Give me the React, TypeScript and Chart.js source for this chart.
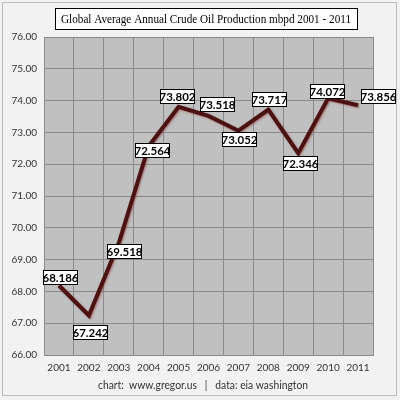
import React, { useEffect, useRef } from "react";
import { Chart, registerables } from "chart.js";

Chart.register(...registerables);

const years = ["2001", "2002", "2003", "2004", "2005", "2006", "2007", "2008", "2009", "2010", "2011"];
const production = [68.186, 67.242, 69.518, 72.564, 73.802, 73.518, 73.052, 73.717, 72.346, 74.072, 73.856];
const valueLabels = ["68.186", "67.242", "69.518", "72.564", "73.802", "73.518", "73.052", "73.717", "72.346", "74.072", "73.856"];
const titleText = "Global Average Annual Crude Oil Production mbpd 2001 - 2011";
const footerText = "chart:  www.gregor.us   |   data: eia washington";

// label box offsets from each point (dx, dy) in px
const labelOffsets: [number, number][] = [
  [1, -8], [1, 16], [5, 8], [3, 4], [-2, -11], [8, -12], [1, 8], [1, -11], [2, 10], [-1, -7], [20, -9],
];

function drawFitted(ctx: CanvasRenderingContext2D, text: string, font: string, target: number, cx: number, cy: number) {
  ctx.save();
  ctx.font = font;
  const w = ctx.measureText(text).width;
  const sx = Math.min(1, target / w);
  ctx.translate(cx, cy);
  ctx.scale(sx, 1);
  ctx.textAlign = "center";
  ctx.textBaseline = "middle";
  ctx.fillText(text, 0, 0);
  ctx.restore();
}

const decorPlugin = {
  id: "decor",
  beforeDraw(chart: any) {
    const { ctx, width, height, chartArea } = chart;
    ctx.save();
    ctx.fillStyle = "#f2f2f2";
    ctx.fillRect(0, 0, width, height);
    ctx.strokeStyle = "#bdbdbd";
    ctx.lineWidth = 1;
    ctx.strokeRect(2.5, 2.5, 394, 393);
    ctx.fillStyle = "#c0c0c0";
    ctx.fillRect(chartArea.left, chartArea.top, chartArea.right - chartArea.left, chartArea.bottom - chartArea.top);
    ctx.restore();
  },
  beforeDatasetsDraw(chart: any) {
    const ctx = chart.ctx;
    ctx.save();
    ctx.shadowColor = "rgba(150,60,60,0.6)";
    ctx.shadowBlur = 2;
    ctx.shadowOffsetX = 1;
    ctx.shadowOffsetY = 1;
  },
  afterDatasetsDraw(chart: any) {
    chart.ctx.restore();
  },
  afterDraw(chart: any) {
    const { ctx } = chart;
    ctx.save();
    // title box
    const cx = 206;
    const bw = 302;
    ctx.fillStyle = "#ffffff";
    ctx.fillRect(cx - bw / 2, 8, bw, 22);
    ctx.strokeStyle = "#000000";
    ctx.lineWidth = 1;
    ctx.strokeRect(Math.round(cx - bw / 2) + 0.5, 8.5, bw, 21);
    ctx.fillStyle = "#000000";
    drawFitted(ctx, titleText, "13px 'Liberation Serif', serif", 290, cx, 19.5);
    // footer
    ctx.fillStyle = "#333333";
    drawFitted(ctx, footerText, "11px Lato, 'Open Sans', sans-serif", 210, 203, 385);
    // value labels
    const meta = chart.getDatasetMeta(0);
    ctx.font = "bold 11.5px Lato, 'Open Sans', sans-serif";
    ctx.textAlign = "center";
    ctx.textBaseline = "middle";
    meta.data.forEach((pt: any, i: number) => {
      const [dx, dy] = labelOffsets[i];
      const x = pt.x + dx;
      const y = pt.y + dy;
      const w = 34;
      const h = 14;
      const lx = Math.round(x - w / 2) + 0.5;
      const ly = Math.round(y - h / 2) + 0.5;
      ctx.fillStyle = "#ffffff";
      ctx.fillRect(lx, ly, w, h);
      ctx.strokeStyle = "#000000";
      ctx.strokeRect(lx, ly, w, h);
      ctx.fillStyle = "#000000";
      ctx.fillText(valueLabels[i], lx + w / 2, ly + h / 2 + 0.5);
    });
    ctx.restore();
  },
};

export default function App() {
  const ref = useRef<HTMLCanvasElement>(null);
  useEffect(() => {
    const chart = new Chart(ref.current!, {
      type: "line",
      data: {
        labels: years,
        datasets: [
          {
            data: production,
            borderColor: "#4a1212",
            borderWidth: 4,
            pointRadius: 0,
            tension: 0,
            borderJoinStyle: "miter",
          },
        ],
      },
      options: {
        animation: false,
        responsive: false,
        devicePixelRatio: 1,
        layout: { padding: { left: 0, top: 37, right: 27, bottom: 0 } },
        plugins: { legend: { display: false }, tooltip: { enabled: false }, title: { display: false } },
        scales: {
          x: {
            offset: true,
            grid: { offset: true, color: "#8a8a8a", drawTicks: false },
            border: { color: "#8a8a8a" },
            ticks: { color: "#333", font: { size: 10, family: "Lato, 'Open Sans', sans-serif" }, padding: 7 },
            afterFit: (s: any) => { s.height = 45; },
          },
          y: {
            min: 66,
            max: 76,
            grid: { color: "#8a8a8a", drawTicks: false },
            border: { color: "#8a8a8a" },
            ticks: {
              stepSize: 1,
              color: "#333",
              padding: 7,
              font: { size: 10, family: "Lato, 'Open Sans', sans-serif" },
              callback: (v: any) => Number(v).toFixed(2),
            },
            afterFit: (s: any) => { s.width = 44; },
          },
        },
      },
      plugins: [decorPlugin],
    });
    return () => chart.destroy();
  }, []);
  return (
    <div style={{ position: "fixed", left: 0, top: 0, width: 400, height: 400 }}>
      <canvas ref={ref} width={400} height={400} style={{ width: 400, height: 400 }} />
    </div>
  );
}
